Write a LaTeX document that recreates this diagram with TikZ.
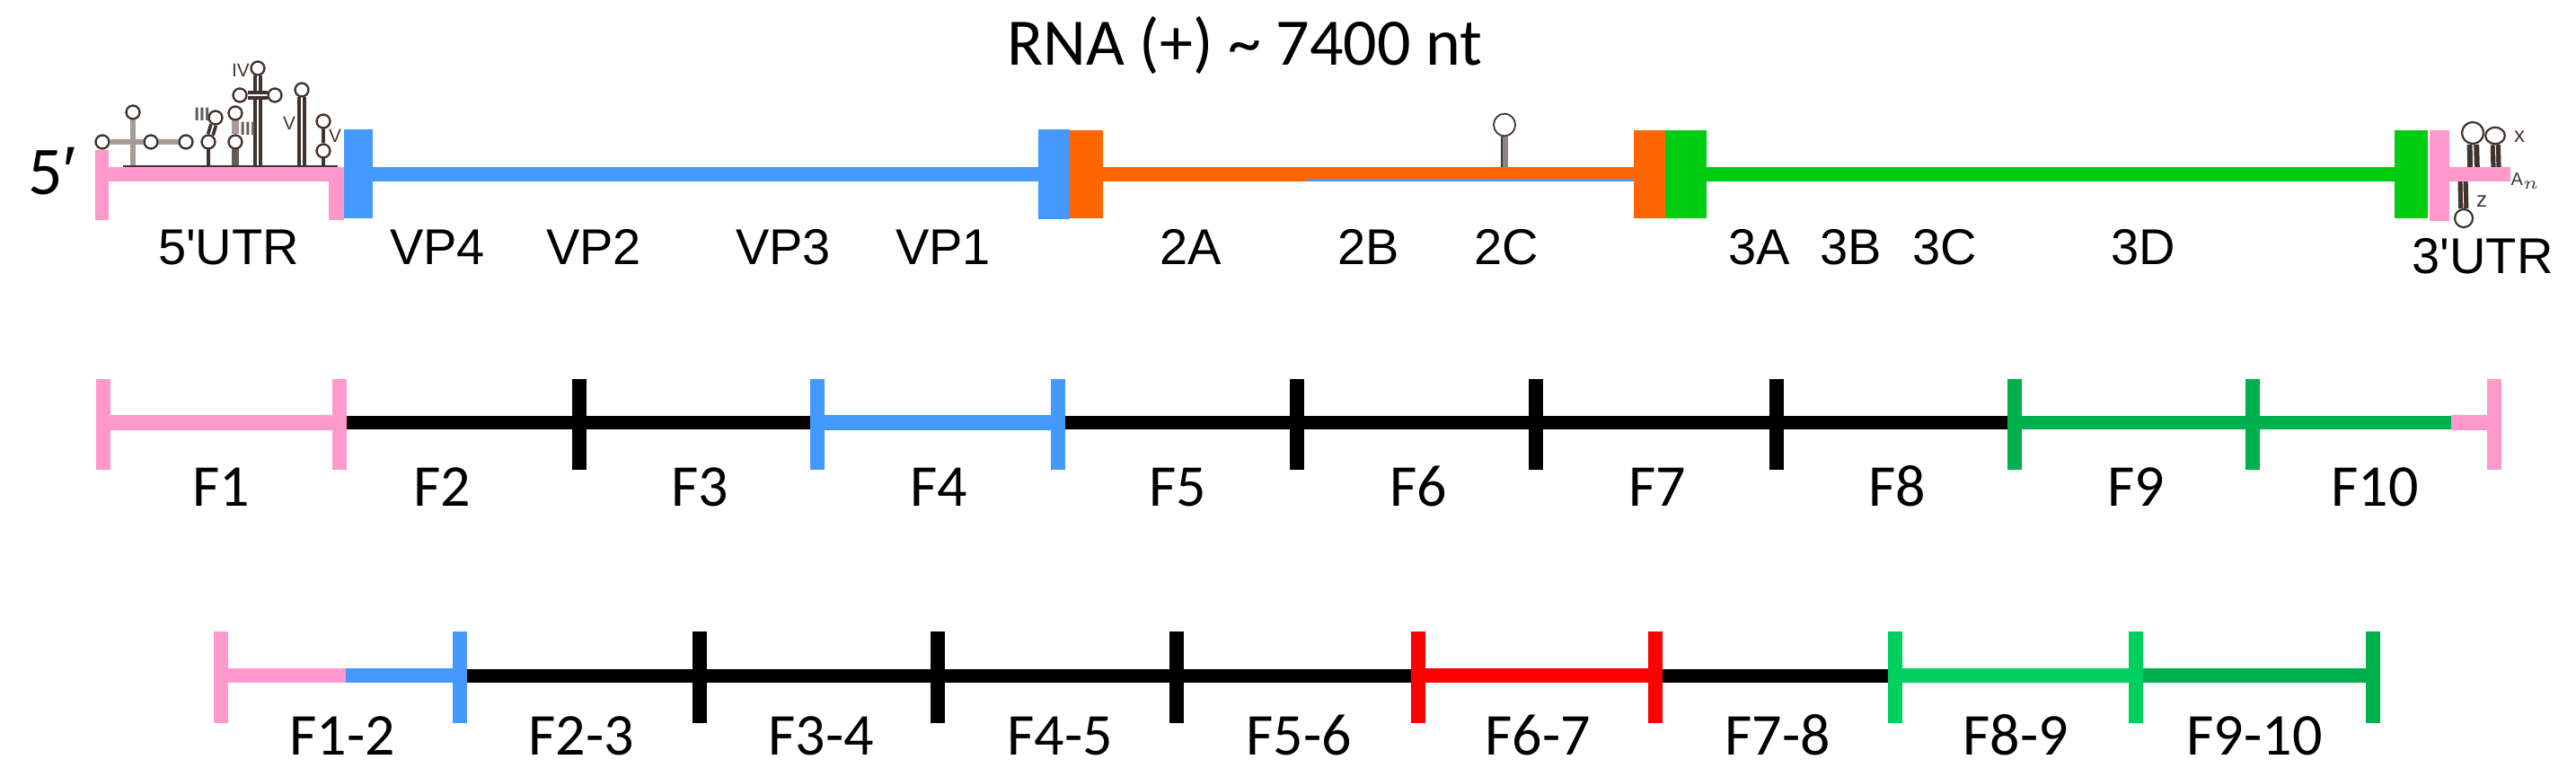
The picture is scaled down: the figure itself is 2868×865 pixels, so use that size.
\documentclass[tikz,border=0pt]{standalone}
\usepackage{fontspec}
\setmainfont{Carlito}
\newfontfamily\arialf{Liberation Sans}
\usetikzlibrary{shapes.geometric}
\definecolor{pinkc}{HTML}{FF99CC}
\definecolor{bluec}{HTML}{4499FF}
\definecolor{orangec}{HTML}{FF6600}
\definecolor{greenc}{HTML}{00CC11}
\definecolor{fragdark}{HTML}{00B04C}
\definecolor{fraglight}{HTML}{00D060}
\definecolor{stemc}{HTML}{3F3430}
\definecolor{stemlight}{HTML}{A89A94}
\tikzset{
  x=0.25pt,y=-0.25pt,
  fragbar/.style={line width=3.75pt},
  colbar/.style={line width=4.1pt},
  fragtick/.style={line width=4pt},
  genbar/.style={line width=4pt},
  lab/.style={anchor=base,inner sep=0pt,font=\fontsize{16.5pt}{18pt}\selectfont},
  glab/.style={anchor=base,inner sep=0pt,font=\arialf\fontsize{14pt}{16pt}\selectfont},
  tiny/.style={anchor=center,inner sep=0pt,text=stemc,font=\arialf\fontsize{5.2pt}{6pt}\selectfont},
  loopn/.style={draw=stemc,fill=white,line width=0.55pt,circle,minimum size=3.7pt,inner sep=0pt},
  dstem/.style={draw=stemc,line width=0.95pt,double=white,double distance=0.45pt},
  sstem/.style={draw=stemc,line width=0.8pt},
  hstem/.style={draw=stemlight,line width=1.6pt},
}
\newcommand{\ticktop}[2]{\draw[fragtick,#2] ([yshift=12.2pt]#1) -- ([yshift=-13.2pt]#1);}
\begin{document}
\begin{tikzpicture}
\useasboundingbox (0,0) rectangle (2868,865);
\node[lab,font=\fontsize{18.5pt}{20pt}\selectfont] (title) at (1386,73) {RNA (+) \char"7E\ 7400 nt};
\node[anchor=base west,inner sep=0pt,font=\fontsize{19pt}{20pt}\selectfont] (fivep) at (31,217) {5{\arialf ′}};

% --- 5' UTR secondary structure
\node[loopn] (a1) at (148,125) {};
\node[loopn] (a2) at (114,158) {};
\node[loopn] (a3) at (168,158) {};
\node[loopn] (a4) at (207,158) {};
\node[loopn] (b1) at (232,158) {};
\node[loopn] (b2) at (240,131) {};
\node[loopn] (c1) at (262,158) {};
\node[loopn] (c2) at (262,126) {};
\node[loopn] (d1) at (287,76) {};
\node[loopn] (d2) at (267,106) {};
\node[loopn] (d3) at (306,106) {};
\node[loopn] (e1) at (336,100) {};
\node[loopn] (f1) at (360,135) {};
\node[loopn] (f2) at (360,168) {};
\coordinate (a0) at (148,185);
\coordinate (b0) at (232,185);
\coordinate (c0) at (262,185);
\coordinate (d0) at (287,185);
\coordinate (e0) at (336,185);
\coordinate (f0) at (360,185);
\coordinate (base1) at (137,185);
\coordinate (base2) at (376,185);
\draw[hstem] (a2) -- (a4);
\draw[hstem] (a1) -- (a0);
\draw[sstem] (b1) -- (b0);
\draw[dstem] (b1) -- (b2);
\draw[hstem,line width=2pt,draw=stemc!80] (c0) -- (c1);
\draw[hstem,line width=2pt] (c1) -- (c2);
\draw[dstem] (d1) -- (d0);
\draw[dstem] (d2) -- (d3);
\draw[dstem] (e1) -- (e0);
\draw[sstem] (f1) -- (f2);
\draw[sstem] (f2) -- (f0);
\draw[sstem,line width=0.5pt] (base1) -- (base2);
\foreach \n in {a1,a2,a3,a4,b1,b2,c1,c2,d1,d2,d3,e1,f1,f2}{\node[loopn] at (\n) {};}
\node[tiny] (t4) at (268,78) {IV};
\node[tiny,font=\arialf\bfseries\fontsize{5.2pt}{6pt}\selectfont,text=stemc!80] (t2) at (225,127) {III};
\node[tiny,font=\arialf\bfseries\fontsize{5.2pt}{6pt}\selectfont,text=stemc!80] (t3) at (276,143) {III};
\node[tiny] (t5) at (322,137) {V};
\node[tiny] (t6) at (373,151) {V};

% --- 2C hairpin
\node[draw=stemc,fill=white,ellipse,line width=0.45pt,minimum width=6pt,minimum height=6.2pt,inner sep=0pt] (h2c) at (1675,139) {};
\coordinate (h2c0) at (1675,186);
\draw[draw=stemc!60,line width=2.1pt] (h2c) -- (h2c0);
\draw[draw=stemc,line width=0.6pt] ([xshift=-0.8pt]h2c.south) -- ([xshift=-0.8pt]h2c0);

% --- 3' UTR hairpins
\node[draw=stemc,fill=white,circle,line width=0.55pt,minimum size=6pt,inner sep=0pt] (x1) at (2753,148) {};
\node[draw=stemc,fill=white,ellipse,line width=0.55pt,minimum width=5.4pt,minimum height=4.6pt,inner sep=0pt] (x2) at (2778,151) {};
\node[loopn,minimum size=5pt] (z1) at (2743,243) {};
\coordinate (x10) at (2754,187);
\coordinate (x20) at (2779,187);
\coordinate (z0) at (2742,200);
\draw[dstem,line width=1.5pt,double distance=0.4pt] (x1) -- (x10);
\draw[dstem,line width=1.3pt,double distance=0.2pt] (x2) -- (x20);
\draw[dstem,line width=1.3pt,double distance=0.2pt] (z1) -- (z0);
\node[tiny,font=\arialf\fontsize{6pt}{7pt}\selectfont] (tx) at (2805,152) {x};
\node[tiny,font=\arialf\fontsize{6pt}{7pt}\selectfont] (tz) at (2763,224) {z};
\node[tiny,font=\arialf\fontsize{5pt}{6pt}\selectfont] (tan) at (2812,202) {A$_{n}$};

% --- genome row
\coordinate (g0) at (106,194);
\coordinate (g1) at (382.5,194);
\coordinate (g2) at (415,194);
\coordinate (g3) at (1228,194);
\coordinate (g4) at (1819,194);
\coordinate (g5) at (1900,194);
\coordinate (g6) at (2727,194);
\coordinate (g7) at (2795,194);
\coordinate (g3b) at (1456,194);
\draw[genbar,pinkc] (g0) -- (g1);
\draw[genbar,bluec] (g2) -- (1191,194);
\draw[genbar,orangec] (g3) -- (g3b);
\draw[genbar,bluec] (g3b) -- (g4);
\draw[orangec,line width=3.2pt] (1456,192.4) -- (1819,192.4);
\draw[genbar,greenc] (g5) -- (2666,194);
\draw[genbar,pinkc] (g6) -- (g7);
\fill[pinkc] (106,167) rectangle (120.5,245);
\fill[pinkc] (366,186) rectangle (382.6,245);
\fill[bluec] (382.6,144) rectangle (415,243);
\fill[bluec] (1156,144) rectangle (1191,244);
\fill[orangec] (1191,145) rectangle (1228,243);
\fill[orangec] (1819,145) rectangle (1854,243);
\fill[greenc] (1854,145) rectangle (1900,243);
\fill[greenc] (2666,145) rectangle (2703,243);
\fill[pinkc] (2705,145) rectangle (2727,246);
\foreach \nm/\xx/\yy/\t in {l5utr/254.5/295/5'UTR,lvp4/487/295/VP4,lvp2/661/295/VP2,lvp3/872/295/VP3,lvp1/1050/295/VP1,l2a/1326/295/2A,l2b/1524/295/2B,l2c/1677/295/2C,l3a/1959/295/3A,l3b/2061/295/3B,l3c/2165/295/3C,l3d/2386/295/3D,l3utr/2764/305/3'UTR}{
  \node[glab] (\nm) at (\xx,\yy) {\t};
}

% --- fragments, row 2
\foreach \nm/\xx in {0/115,1/378,2/645,3/910,4/1178,5/1444,6/1710,7/1978,8/2243,9/2508,10/2777}{
  \coordinate (p\nm) at (\xx,470.5);
}
\coordinate (p10a) at (2729,470.5);
\draw[fragbar] (p1) -- (p3);
\draw[fragbar] (p4) -- (p8);
\draw[colbar,pinkc] (p0) -- (p1);
\draw[colbar,bluec] (p3) -- (p4);
\draw[fragbar,fragdark] (p8) -- (p10a);
\draw[colbar,pinkc] (p10a) -- (p10);
\ticktop{p0}{pinkc}
\ticktop{p1}{pinkc}
\ticktop{p2}{black}
\ticktop{p3}{bluec}
\ticktop{p4}{bluec}
\ticktop{p5}{black}
\ticktop{p6}{black}
\ticktop{p7}{black}
\ticktop{p8}{fragdark}
\ticktop{p9}{fragdark}
\ticktop{p10}{pinkc}
\foreach \nm/\xx/\t in {f1/246/F1,f2/492/F2,f3/779/F3,f4/1045/F4,f5/1311/F5,f6/1579/F6,f7/1845/F7,f8/2112/F8,f9/2378/F9,f10/2644/F10}{
  \node[lab] (\nm) at (\xx,563) {\t};
}

% --- fragments, row 3
\foreach \nm/\xx in {0/246,1/512,2/779,3/1044,4/1310,5/1579,6/1843,7/2110,8/2378,9/2642}{
  \coordinate (q\nm) at (\xx,752);
}
\coordinate (qm) at (385,752);
\draw[fragbar] (q1) -- (q5);
\draw[fragbar] (q6) -- (q7);
\draw[colbar,pinkc] (q0) -- (qm);
\draw[colbar,bluec] (qm) -- (q1);
\draw[colbar,red] (q5) -- (q6);
\draw[colbar,fraglight] (q7) -- (q8);
\draw[colbar,fragdark] (q8) -- (q9);
\ticktop{q0}{pinkc}
\ticktop{q1}{bluec}
\ticktop{q2}{black}
\ticktop{q3}{black}
\ticktop{q4}{black}
\ticktop{q5}{red}
\ticktop{q6}{red}
\ticktop{q7}{fraglight}
\ticktop{q8}{fraglight}
\ticktop{q9}{fragdark}
\foreach \nm/\xx/\t in {g12/381/F1-2,g23/647/F2-3,g34/914/F3-4,g45/1180/F4-5,g56/1446/F5-6,g67/1712/F6-7,g78/1979/F7-8,g89/2244/F8-9,g910/2510/F9-10}{
  \node[lab] (\nm) at (\xx,840) {\t};
}
\end{tikzpicture}
\end{document}
